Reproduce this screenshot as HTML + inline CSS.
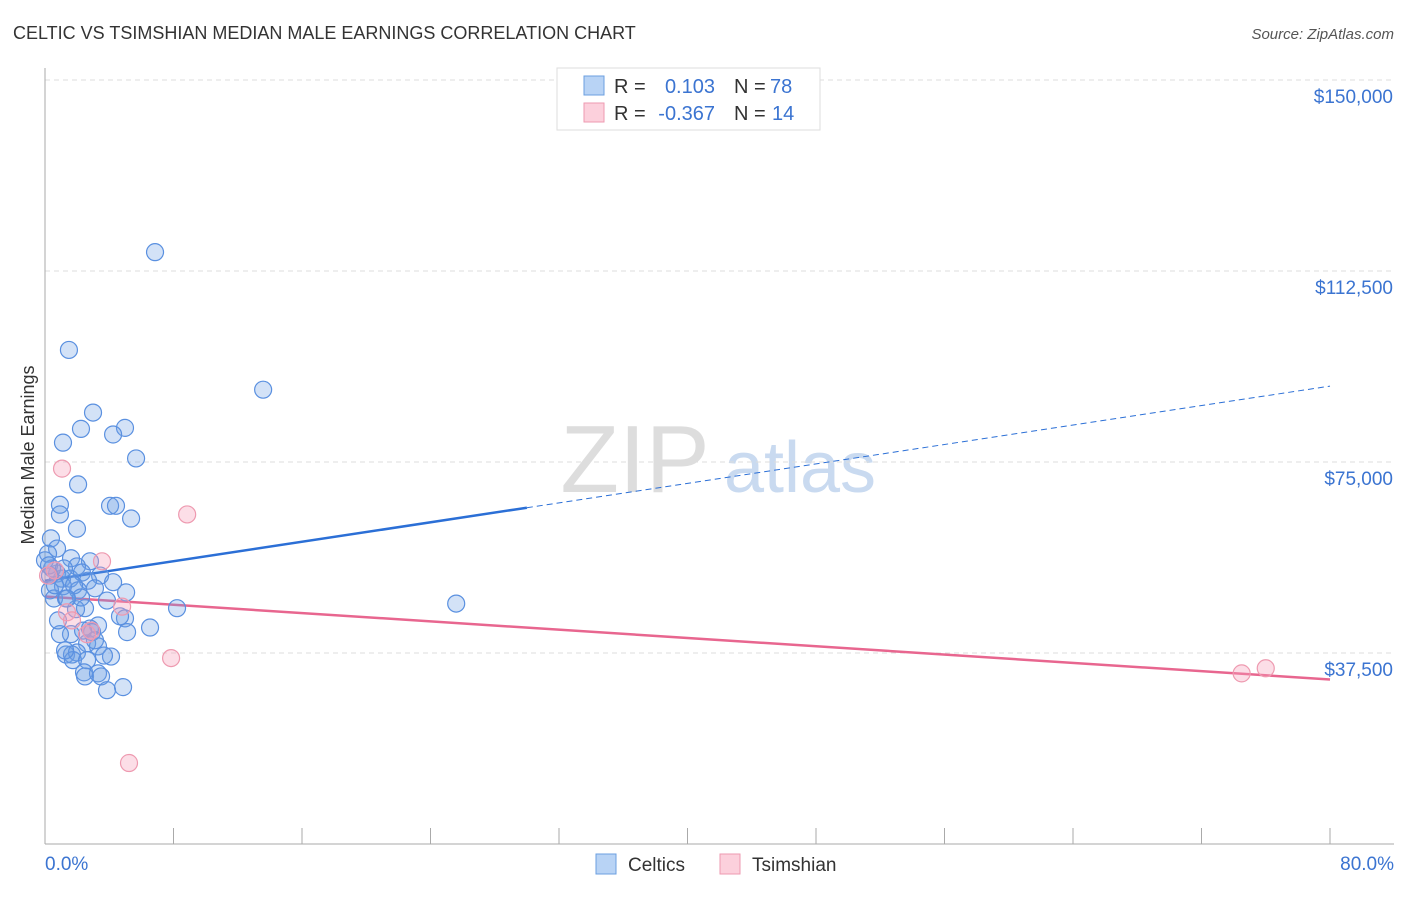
<!DOCTYPE html>
<html><head><meta charset="utf-8">
<style>
body{margin:0;background:#fff;font-family:"Liberation Sans",sans-serif;}
svg text{font-family:"Liberation Sans",sans-serif;}
</style></head>
<body>
<svg id="chart" width="1406" height="892" xmlns="http://www.w3.org/2000/svg">
<text x="13" y="39" font-size="18" fill="#333">CELTIC VS TSIMSHIAN MEDIAN MALE EARNINGS CORRELATION CHART</text>
<text x="1394" y="39" font-size="15" fill="#555" font-style="italic" text-anchor="end">Source: ZipAtlas.com</text>
<text transform="translate(34,455) rotate(-90)" font-size="18" fill="#333" text-anchor="middle">Median Male Earnings</text>
<g>
<text x="635" y="492" font-size="96" fill="#ddd" font-family="Liberation Serif" text-anchor="middle">ZIP</text>
<text x="800" y="492" font-size="72" fill="#c9daf0" text-anchor="middle">atlas</text>
</g>
<g id="grid"></g>
<g id="axes"></g>
<g id="lines"></g>
<g id="points"></g>
<g>
<rect x="557" y="68" width="263" height="62" fill="#fff" stroke="#ddd"/>
<rect x="584" y="76" width="20" height="19" fill="#b8d3f5" stroke="#6b9fe0"/>
<text x="614" y="93" font-size="20" fill="#333">R =</text>
<text x="715" y="93" font-size="20" fill="#3b74d1" text-anchor="end">0.103</text>
<text x="734" y="93" font-size="20" fill="#333">N =</text>
<text x="770" y="93" font-size="20" fill="#3b74d1">78</text>
<rect x="584" y="103" width="20" height="19" fill="#fcd0dc" stroke="#ee9ab0"/>
<text x="614" y="120" font-size="20" fill="#333">R =</text>
<text x="715" y="120" font-size="20" fill="#3b74d1" text-anchor="end">-0.367</text>
<text x="734" y="120" font-size="20" fill="#333">N =</text>
<text x="772" y="120" font-size="20" fill="#3b74d1">14</text>
</g>
<g>
<rect x="596" y="854" width="20" height="20" fill="#b8d3f5" stroke="#6b9fe0"/>
<text x="628" y="871" font-size="19" fill="#333">Celtics</text>
<rect x="720" y="854" width="20" height="20" fill="#fcd0dc" stroke="#ee9ab0"/>
<text x="752" y="871" font-size="19" fill="#333">Tsimshian</text>
</g>
</svg>
<script>
const yTicks=[37500,75000,112500,150000];
const yTickLabels=["$37,500","$75,000","$112,500","$150,000"];
const xTickLabels=["0.0%","80.0%"];
const celticsX=[6.85,1.49,13.58,2.99,2.24,4.98,4.24,1.12,5.67,2.06,4.05,4.42,0.93,0.93,5.36,1.99,0.37,0.75,0.19,1.62,2.8,1.99,0.75,1.06,0.44,1.56,3.43,2.3,2.68,4.24,5.05,3.11,2.06,1.12,0.31,0.56,1.31,2.49,1.93,8.22,25.6,4.98,4.67,3.3,2.8,2.93,1.62,0.93,2.62,3.3,1.31,1.68,1.99,4.11,1.74,2.62,2.43,2.49,3.3,3.49,3.86,4.86,6.54,5.11,2.37,1.25,0,0.31,0.62,0.25,1.18,1.81,3.86,2.24,3.11,0.81,1.37,3.67];
const celticsY=[116200,97000,89200,84700,81500,81700,80400,78800,75700,70600,66400,66400,66600,64700,63900,61900,60000,58000,57000,56100,55500,54500,53100,52100,54100,52100,52700,53300,51700,51400,49400,50200,49800,50600,49800,48200,48200,46300,46100,46300,47200,44300,44700,42900,42300,41600,41200,41200,39400,38800,37200,37200,37600,36800,36100,36100,33700,32900,33500,32900,30200,30800,42500,41600,41900,38000,55700,52700,50800,54700,54100,50800,47800,48400,40000,43900,48200,37000];
const tsimX=[1.06,8.85,3.55,0.62,1.37,4.8,1.68,2.87,2.62,7.85,5.23,74.5,76.0,0.19];
const tsimY=[73700,64700,55500,53700,45500,46600,43900,41900,41200,36500,15900,33500,34500,52700];
const celticsTrend=[51700,89900];
const tsimTrend=[48600,32300];
const X0=45,X1=1330,Ybase=844,Y150=80;
const sx=v=>X0+(v/80)*(X1-X0);
const sy=v=>Ybase-(v/150000)*(Ybase-Y150);
const NS="http://www.w3.org/2000/svg";
function mk(tag,attrs,parent){const e=document.createElementNS(NS,tag);for(const k in attrs)e.setAttribute(k,attrs[k]);document.getElementById(parent).appendChild(e);return e;}
yTicks.forEach((t,i)=>{
 const g=mk('line',{x1:X0,x2:1394,y1:sy(t),y2:sy(t),stroke:'#ddd','stroke-dasharray':'5,4'},'grid');
 
 
 const l=mk('text',{x:1393,y:sy(t)+23,'font-size':19,fill:'#3b74d1','text-anchor':'end'},'axes');
 l.textContent=yTickLabels[i];
 
 
});
const ax=mk('line',{x1:X0,x2:X0,y1:68,y2:Ybase,stroke:'#aaa'},'axes');


const bx=mk('line',{x1:X0,x2:1394,y1:Ybase,y2:Ybase,stroke:'#aaa'},'axes');


for(let i=0;i<=10;i++){
 const x=X0+i*(X1-X0)/10;
 const t=mk('line',{x1:x,x2:x,y1:Ybase-16,y2:Ybase,stroke:'#aaa'},'axes');
 
 
}
[[0,'start',45],[80,'end',1394]].forEach((d,i)=>{
 const l=mk('text',{x:d[2],y:870,'font-size':19,fill:'#3b74d1','text-anchor':d[1]},'axes');
 l.textContent=xTickLabels[i];
 
 
});
const tv=(tr,x)=>tr[0]+(tr[1]-tr[0])*x/80;
const l1=mk('line',{x1:sx(0),y1:sy(tv(celticsTrend,0)),x2:sx(30),y2:sy(tv(celticsTrend,30)),stroke:'#2b6fd6','stroke-width':2.5},'lines');


const l2=mk('line',{x1:sx(30),y1:sy(tv(celticsTrend,30)),x2:sx(80),y2:sy(tv(celticsTrend,80)),stroke:'#2b6fd6','stroke-width':1,'stroke-dasharray':'6,4'},'lines');


const l3=mk('line',{x1:sx(0),y1:sy(tv(tsimTrend,0)),x2:sx(80),y2:sy(tv(tsimTrend,80)),stroke:'#e8668f','stroke-width':2.5},'lines');


celticsX.forEach((x,i)=>{
 const c=mk('circle',{cx:sx(x),cy:sy(celticsY[i]),r:8.5,fill:'rgba(110,160,230,0.3)',stroke:'#5a90e0','stroke-width':1.2},'points');
 
 
});
tsimX.forEach((x,i)=>{
 const c=mk('circle',{cx:sx(x),cy:sy(tsimY[i]),r:8.5,fill:'rgba(245,160,185,0.35)',stroke:'#ee9ab0','stroke-width':1.2},'points');
 
 
});
</script>
</body></html>
